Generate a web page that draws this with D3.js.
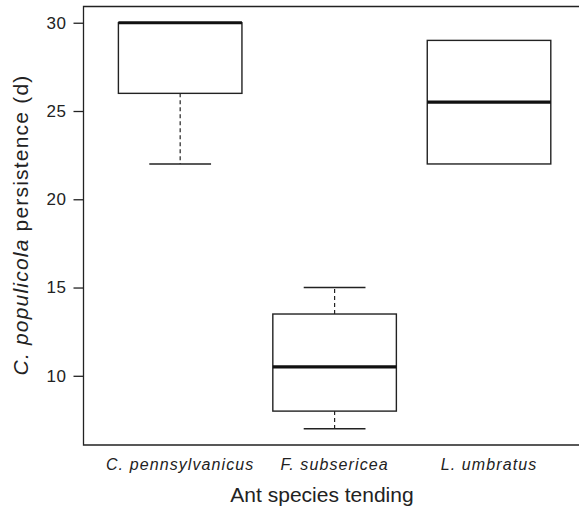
<!DOCTYPE html>
<html>
<head>
<meta charset="utf-8">
<script src="https://cdn.jsdelivr.net/npm/d3@7"></script>
<style>
  body { margin: 0; background: #fff; }
  svg { font-family: "Liberation Sans", Arial, sans-serif; }
</style>
</head>
<body>
<div id="chart"></div>
<script>
const width = 579;
const height = 508;

// box statistics
const species = ["C. pennsylvanicus", "F. subsericea", "L. umbratus"];
const lowerWhisker = [22, 7, 22];
const firstQuartile = [26, 8, 22];
const medians = [30, 10.5, 25.5];
const thirdQuartile = [30, 13.5, 29];
const upperWhisker = [30, 15, 29];
const yTicks = [10, 15, 20, 25, 30];

const svg = d3.select("#chart").append("svg")
  .attr("width", width)
  .attr("height", height);

const plotLeft = 83.5, plotTop = 6.5, plotBottom = 445;
const ink = "#222";

// R style: positions 1..n, range padded 4%
const x = d3.scaleLinear()
  .domain([0.374, 3.626])
  .range([plotLeft, 585.7]);

const y = d3.scaleLinear()
  .domain([6.08, 30.92])
  .range([plotBottom, plotTop]);

// frame (right side runs off the picture)
svg.append("path")
  .attr("d", `M${width},${plotTop}H${plotLeft}V${plotBottom}H${width}`)
  .attr("fill", "none")
  .attr("stroke", ink)
  .attr("stroke-width", 1.3);

// y axis
const yAxis = svg.append("g")
  .attr("transform", `translate(${plotLeft},0)`)
  .call(d3.axisLeft(y).tickValues(yTicks).tickSize(10).tickPadding(7));
yAxis.select(".domain").remove();
yAxis.selectAll(".tick line").attr("stroke", ink).attr("stroke-width", 1.3);
yAxis.selectAll(".tick text")
  .attr("fill", ink)
  .style("font-size", "17px")
  .style("letter-spacing", "0.5px")
  .style("font-family", "Liberation Sans, Arial, sans-serif");

const boxW = 0.8;
const capW = 0.4;

species.forEach((s, i) => {
  const pos = i + 1;
  const g = svg.append("g");

  // whiskers
  if (upperWhisker[i] > thirdQuartile[i]) {
    g.append("line")
      .attr("x1", x(pos)).attr("x2", x(pos))
      .attr("y1", y(thirdQuartile[i])).attr("y2", y(upperWhisker[i]))
      .attr("stroke", ink).attr("stroke-width", 1.2)
      .attr("stroke-dasharray", "4,3");
    g.append("line")
      .attr("x1", x(pos - capW / 2)).attr("x2", x(pos + capW / 2))
      .attr("y1", y(upperWhisker[i])).attr("y2", y(upperWhisker[i]))
      .attr("stroke", ink).attr("stroke-width", 1.5);
  }
  if (lowerWhisker[i] < firstQuartile[i]) {
    g.append("line")
      .attr("x1", x(pos)).attr("x2", x(pos))
      .attr("y1", y(firstQuartile[i])).attr("y2", y(lowerWhisker[i]))
      .attr("stroke", ink).attr("stroke-width", 1.2)
      .attr("stroke-dasharray", "4,3");
    g.append("line")
      .attr("x1", x(pos - capW / 2)).attr("x2", x(pos + capW / 2))
      .attr("y1", y(lowerWhisker[i])).attr("y2", y(lowerWhisker[i]))
      .attr("stroke", ink).attr("stroke-width", 1.5);
  }

  // box
  g.append("rect")
    .attr("x", x(pos - boxW / 2))
    .attr("width", x(pos + boxW / 2) - x(pos - boxW / 2))
    .attr("y", y(thirdQuartile[i]))
    .attr("height", y(firstQuartile[i]) - y(thirdQuartile[i]))
    .attr("fill", "#fff")
    .attr("stroke", ink)
    .attr("stroke-width", 1.4);

  // median
  g.append("line")
    .attr("x1", x(pos - boxW / 2)).attr("x2", x(pos + boxW / 2))
    .attr("y1", y(medians[i])).attr("y2", y(medians[i]))
    .attr("stroke", "#111").attr("stroke-width", 3.2);

  // category label
  svg.append("text")
    .attr("x", x(pos))
    .attr("y", 470)
    .attr("text-anchor", "middle")
    .style("font-size", "16px")
    .style("letter-spacing", "1.1px")
    .style("font-style", "italic")
    .attr("fill", ink)
    .text(s);
});

// axis titles
svg.append("text")
  .attr("x", 322)
  .attr("y", 502)
  .attr("text-anchor", "middle")
  .style("font-size", "21px")
  .attr("fill", ink)
  .text("Ant species tending");

const yTitle = svg.append("text")
  .attr("transform", `translate(28,225) rotate(-90)`)
  .attr("text-anchor", "middle")
  .style("font-size", "21px")
  .style("letter-spacing", "1.2px")
  .attr("fill", ink);
yTitle.append("tspan").style("font-style", "italic").text("C. populicola");
yTitle.append("tspan").text(" persistence (d)");
</script>
</body>
</html>
